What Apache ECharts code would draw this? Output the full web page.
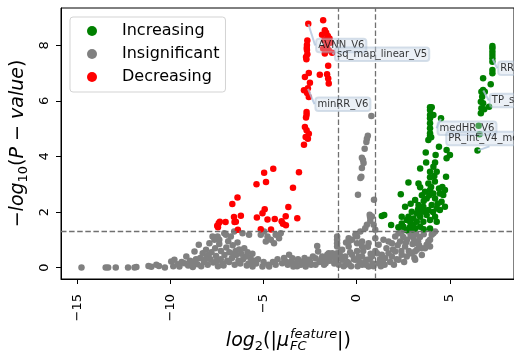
<!DOCTYPE html>
<html><head><meta charset="utf-8">
<script src="https://cdn.jsdelivr.net/npm/echarts@6/dist/echarts.min.js"></script>
<style>html,body{margin:0;padding:0;background:#fff}#c{width:514px;height:354px}</style>
</head><body><div id="c"></div>
<script>
const xTicks = [-15, -10, -5, 0, 5];
const yTicks = [0, 2, 4, 6, 8];
const legendNames = ['Increasing', 'Insignificant', 'Decreasing'];
const thresholdsX = [-1, 1];
const thresholdY = 1.301;

const increasing = [
 [7.29,7.97],[7.29,7.89],[7.29,7.77],[7.29,7.65],[7.29,7.53],[7.29,7.41],[7.29,7.11],[7.29,6.99],[7.20,6.60],[6.79,6.81],
 [6.79,6.39],[6.70,6.33],[6.88,6.33],[6.74,6.15],[6.67,5.97],[6.79,5.91],[6.70,5.73],[6.67,5.55],[6.85,5.70],[7.11,5.79],
 [3.94,5.77],[4.03,5.77],[3.94,5.67],[3.94,5.49],[4.12,5.49],[3.94,5.37],[4.53,5.37],[3.94,5.19],[3.94,5.01],[3.94,4.83],
 [3.94,4.74],[4.00,4.69],[3.85,4.59],[6.55,5.10],[6.60,4.80],[6.49,4.21],
 [4.42,4.35],[4.83,4.23],[5.01,4.05],[3.71,4.14],[4.24,4.05],[4.83,3.93],[3.73,3.78],[4.21,3.78],[3.41,3.57],[3.94,3.45],
 [4.12,3.63],[4.30,3.45],[4.17,3.30],[4.80,3.27],[3.94,3.25],[2.78,3.06],[3.32,3.03],[3.85,3.03],[3.41,2.89],[4.42,2.85],
 [4.74,2.79],[3.67,2.73],[3.94,2.79],[4.12,2.67],[4.47,2.67],[4.65,2.61],[2.37,2.64],[3.14,2.43],[3.76,2.49],[4.21,2.49],
 [4.56,2.37],[4.74,2.19],[2.60,2.19],[3.32,2.25],[3.58,2.19],[4.03,2.25],[4.30,2.13],[4.47,2.07],[2.96,2.01],[3.23,1.95],
 [3.49,2.01],[3.85,2.07],[1.35,1.86],[1.48,1.89],[2.42,1.83],[2.78,1.83],[3.05,1.77],[3.41,1.83],[3.76,1.89],[4.21,1.83],
 [4.30,1.65],[2.87,1.65],[3.23,1.65],[3.58,1.65],[3.94,1.71],[1.85,1.53],[2.24,1.45],[2.51,1.47],[2.87,1.47],[3.41,1.47],
 [3.94,1.41],[3.05,1.53],[2.42,1.59],[2.69,1.71],[3.14,1.41],[3.60,2.40],[3.90,2.60],[4.00,2.90],[3.50,2.60],[4.35,2.30],
 [3.70,2.00],[4.10,2.00],[3.30,2.10],[2.90,2.30],[4.60,2.90],[4.20,3.10],[3.00,1.38],[2.70,1.35],[3.60,1.38]
];

const insignificant = [
 [-14.78,0.0],[-13.48,0.0],[-13.35,0.0],[-12.94,0.0],[-12.28,0.0],[-11.93,0.0],[-11.83,0.02],[-11.18,0.06],[-11.03,0.03],[-10.76,0.1],
 [-10.62,0.06],[-10.30,0.0],[-9.96,0.22],[-9.79,0.28],[-9.85,0.05],[-9.60,0.12],[-9.52,0.04],[-9.40,0.20],[-9.25,0.16],[-9.15,0.40],
 [-9.05,0.08],[-8.95,0.25],[-8.90,0.22],[-8.80,0.02],[-8.71,0.58],[-8.63,0.30],[-8.55,0.12],[-8.48,0.82],[-8.40,0.35],[-8.35,0.05],
 [-8.27,0.52],[-8.20,0.20],[-8.09,0.64],[-8.05,0.40],[-8.00,0.10],[-7.91,0.88],[-7.85,0.30],[-7.80,0.55],[-7.74,1.12],[-7.70,0.18],
 [-7.64,1.00],[-7.60,0.70],[-7.55,0.42],[-7.47,1.12],[-7.45,0.05],[-7.38,1.00],[-7.38,0.85],[-7.30,0.30],[-7.29,0.60],[-7.20,0.15],
 [-7.11,1.24],[-7.10,0.45],[-7.02,1.18],[-7.00,0.72],[-6.95,0.25],[-6.90,0.95],[-6.84,0.55],[-6.76,1.12],[-6.70,0.35],[-6.66,0.80],
 [-6.58,1.30],[-6.55,0.10],[-6.50,0.60],[-6.48,0.45],[-6.40,0.90],[-6.35,0.25],[-6.31,0.65],[-6.20,0.50],[-6.13,1.24],[-6.10,0.30],
 [-6.04,0.70],[-5.95,0.40],[-5.86,0.55],[-5.80,0.15],[-5.78,1.18],[-5.70,0.35],[-5.60,0.50],[-5.59,0.04],[-5.50,0.25],[-5.40,0.15],
 [-5.30,0.30],[-5.15,1.18],[-5.06,0.04],[-5.00,0.20],[-4.97,1.30],[-4.88,0.94],[-4.79,1.12],[-4.75,0.10],[-4.70,0.04],[-4.61,1.00],
 [-4.50,0.20],[-4.44,0.88],[-4.35,1.18],[-4.35,0.10],[-4.25,0.30],[-4.17,1.06],[-4.08,1.24],[-4.00,0.16],[-3.90,0.35],[-3.81,0.22],
 [-3.70,0.10],[-3.63,0.46],[-3.55,0.20],[-3.45,0.34],[-3.40,0.04],[-3.27,0.16],[-3.15,0.30],[-3.00,0.10],[-2.92,0.22],[-2.80,0.35],
 [-2.74,0.04],[-2.65,0.15],[-2.56,0.28],[-2.45,0.10],[-2.35,0.40],[-2.21,0.34],[-2.21,0.10],[-2.12,0.78],[-2.07,0.58],[-2.00,0.20],
 [-1.90,0.30],[-1.85,0.40],[-1.75,0.10],[-1.67,0.16],[-1.58,0.46],[-1.50,0.52],[-1.45,0.25],[-1.32,0.40],[-1.31,0.52],[-1.20,0.15],
 [-1.14,0.28],[-1.05,1.12],[-1.05,1.00],[-1.05,0.88],[-1.05,0.76],[-1.05,0.52],[-1.05,0.34],[-0.96,0.10],[-0.90,0.45],[-0.78,0.64],
 [-0.78,0.28],[-0.70,0.05],[-0.61,0.40],[-0.57,0.90],[-0.50,0.20],[-0.43,0.93],[-0.43,1.06],[-0.43,0.76],[-0.43,0.16],[-0.35,0.55],
 [-0.25,1.00],[-0.25,0.46],[-0.15,0.30],[-0.07,1.18],[-0.07,0.28],[0.02,1.12],[0.02,0.88],[0.02,0.60],[0.05,0.05],[0.10,0.40],
 [0.20,1.30],[0.29,0.94],[0.29,0.76],[0.29,0.40],[0.29,0.10],[0.35,0.60],[0.46,1.42],[0.45,0.20],[0.55,1.54],[0.55,0.28],
 [0.60,0.75],[0.64,0.88],[0.64,0.04],[0.70,1.90],[0.72,1.82],[0.73,1.69],[0.75,0.50],[0.82,1.84],[0.82,0.40],[0.85,0.15],
 [0.91,1.54],[0.93,2.44],[1.00,1.36],[1.00,1.06],[1.00,0.60],[0.07,2.62],[0.20,3.22],[0.25,3.27],[0.28,3.58],[0.37,3.76],
 [0.34,3.87],[0.28,3.95],[0.43,4.28],[0.52,4.52],[0.55,4.64],[0.60,4.74],[0.79,5.45],[-0.30,0.05],[0.50,0.10],[0.90,0.05],
 [1.30,0.05],[1.09,0.52],[1.18,0.82],[1.18,0.16],[1.25,0.30],[1.35,0.46],[1.44,1.00],[1.50,0.10],[1.53,0.34],[1.60,0.70],
 [1.71,0.94],[1.71,0.52],[1.80,0.20],[1.89,0.88],[1.89,0.40],[1.95,0.65],[2.07,1.12],[2.07,0.58],[2.15,0.30],[2.20,0.80],
 [2.25,1.24],[2.25,0.28],[2.33,0.94],[2.40,0.60],[2.42,1.30],[2.42,0.46],[2.50,1.10],[2.55,0.20],[2.60,1.36],[2.60,0.76],
 [2.69,0.40],[2.70,1.00],[2.78,1.30],[2.80,0.60],[2.87,0.52],[2.90,1.15],[2.96,1.24],[2.96,0.52],[3.00,0.85],[3.05,1.06],
 [3.10,0.35],[3.14,0.88],[3.14,0.28],[3.13,0.58],[3.20,1.20],[3.23,0.64],[3.30,0.95],[3.40,1.10],[3.49,0.70],[3.50,0.45],
 [3.60,1.20],[3.67,0.70],[3.76,0.82],[3.85,0.94],[3.94,1.00],[3.94,0.76],[4.03,1.18],[4.21,1.30],[4.12,1.24],
 [-8.75,0.15],[-8.15,0.28],[-7.95,0.45],[-7.5,0.25],[-7.15,0.08],[-6.85,0.2],[-6.6,0.5],[-6.25,0.15],[-5.9,0.08],[-5.65,0.2],
 [-3.2,0.05],[-2.5,0.2],[-1.6,0.3],[-0.6,0.1],[0.15,0.2],[0.7,0.3],[1.4,0.2],[2.0,0.1],[2.65,0.9],[3.35,0.8]
];

const decreasing = [
 [-1.80,8.90],[-2.60,8.77],[-1.71,8.54],[-1.64,8.45],[-1.86,8.38],[-1.55,8.33],[-1.46,8.24],[-1.73,8.18],[-2.65,8.17],[-1.41,8.09],
 [-2.67,8.01],[-1.59,8.00],[-2.68,7.90],[-1.80,7.88],[-2.67,7.83],[-1.50,7.82],[-1.32,7.73],[-1.71,7.70],[-2.65,7.68],[-2.72,7.58],
 [-2.70,7.50],[-1.53,7.26],[-2.57,7.00],[-1.98,6.94],[-1.59,6.96],[-2.78,6.86],[-1.53,6.80],[-2.51,6.65],[-1.50,6.62],[-2.62,6.45],
 [-2.83,6.38],[-2.66,6.28],[-2.57,6.14],[-2.69,5.60],[-2.69,5.50],[-2.72,5.40],[-2.78,5.06],[-2.69,4.94],[-2.57,4.82],[-2.74,4.70],
 [-2.62,4.64],[-2.83,4.42],[-4.48,3.56],[-4.97,3.41],[-3.10,3.43],[-5.38,3.00],[-4.87,3.08],[-3.42,2.87],[-6.40,2.52],[-6.68,2.29],
 [-3.67,2.18],[-4.94,2.10],[-5.06,1.96],[-6.22,1.87],[-6.59,1.82],[-5.36,1.80],[-3.81,1.85],[-4.79,1.73],[-4.40,1.75],[-3.19,1.78],
 [-4.03,1.67],[-3.96,1.58],[-3.80,1.52],[-6.56,1.64],[-7.04,1.64],[-7.41,1.60],[-7.49,1.51],[-7.45,1.45],[-7.35,1.65],[-6.38,1.36],
 [-5.15,1.38],[-4.60,1.37],[-6.49,1.65]
];

const annotNames = ['AVNN_V6', 'sq_map_linear_V5', 'minRR_V6', 'medHR_V6', 'PR_int_V4_mean', 'RRmean_V6', 'TP_sum_V6'];
const annotPoints = [[-2.60,8.77],[-1.32,7.73],[-2.62,6.45],[4.53,5.37],[6.49,4.21],[7.29,7.53],[6.79,6.39]];
const annotOffsets = [[33,21.6],[50,1.5],[35,15.8],[26,9.9],[12,-12],[38,9.9],[37,10.5]];

const FONT = 'DejaVu Sans';
const chart = echarts.init(document.getElementById('c'), null, {renderer: 'canvas'});
const fmt = v => (v < 0 ? '\u2212' + Math.abs(v) : String(v));

const dotSize = 6.5;
function scatter(name, data, color, z) {
  return {name, type: 'scatter', data, symbol: 'circle', symbolSize: dotSize, z,
    itemStyle: {color, opacity: 1}, emphasis: {disabled: true}, silent: true, animation: false};
}

const gray = scatter('Insignificant', insignificant, '#808080', 2);
gray.markLine = {
  silent: true, symbol: ['none', 'none'], label: {show: false}, animation: false,
  lineStyle: {color: '#707070', type: [5.5, 2.6], width: 1.3},
  data: [{xAxis: thresholdsX[0]}, {xAxis: thresholdsX[1]}, {yAxis: thresholdY}]
};

const annot = {
  type: 'scatter', name: 'annot', z: 10, silent: true, animation: false,
  data: annotPoints.map((p, i) => ({name: annotNames[i], value: p})),
  symbolSize: 1, itemStyle: {color: 'rgba(0,0,0,0)'},
  label: {
    show: true, position: 'inside', formatter: p => p.name,
    fontFamily: FONT, fontSize: 10, color: '#000',
    backgroundColor: 'rgba(200,214,229,0.45)', borderColor: 'rgba(160,182,205,0.55)',
    borderWidth: 1, borderRadius: 3, padding: [1, 2, 1, 2], lineHeight: 11.5
  },
  labelLayout: params => ({dx: annotOffsets[params.dataIndex][0], dy: annotOffsets[params.dataIndex][1]}),
  labelLine: {show: true, lineStyle: {color: 'rgba(176,196,222,0.8)', width: 2}}
};

const option = {
  backgroundColor: '#fff',
  animation: false,
  grid: {left: 61, right: -2, top: 8, bottom: 75, show: true, borderColor: '#000', borderWidth: 1, backgroundColor: 'transparent'},
  xAxis: {
    type: 'value', min: -15.88, max: 8.45,
    axisLine: {show: true, onZero: false, lineStyle: {color: '#000', width: 1}},
    axisTick: {show: true, length: 5, customValues: xTicks, lineStyle: {color: '#000', width: 1}},
    axisLabel: {customValues: xTicks, rotate: 90, margin: 15, fontSize: 13, fontFamily: FONT, color: '#000', formatter: fmt},
    splitLine: {show: false}
  },
  yAxis: {
    type: 'value', min: -0.41, max: 9.34,
    axisLine: {show: true, onZero: false, lineStyle: {color: '#000', width: 1}},
    axisTick: {show: true, length: 5, customValues: yTicks, lineStyle: {color: '#000', width: 1}},
    axisLabel: {customValues: yTicks, rotate: 90, margin: 10, fontSize: 13, fontFamily: FONT, color: '#000', formatter: fmt},
    splitLine: {show: false}
  },
  legend: {
    data: legendNames, orient: 'vertical', left: 70, top: 17,
    icon: 'circle', itemWidth: 10, itemHeight: 10, itemGap: 7,
    padding: [6, 6, 7, 17], borderColor: '#d3d3d3', borderWidth: 1, borderRadius: 3,
    backgroundColor: 'rgba(255,255,255,0.8)',
    textStyle: {fontFamily: FONT, fontSize: 16, color: '#000', padding: [0, 0, 0, 20]}
  },
  graphic: [
    {type: 'text', x: 18.5, y: 143.5, rotation: Math.PI / 2, silent: true,
     style: {text: '{m|\u2212}{i|log}{s|10}{m|(}{i|P}{m| \u2212 }{i|value}{m|)}', align: 'center', verticalAlign: 'middle',
       rich: {
         m: {fontFamily: FONT, fontSize: 19, lineHeight: 24, fill: '#000'},
         i: {fontFamily: FONT, fontStyle: 'italic', fontSize: 19, lineHeight: 24, fill: '#000'},
         s: {fontFamily: FONT, fontSize: 13, lineHeight: 12, verticalAlign: 'bottom', fill: '#000'}
       }}},
    {type: 'text', x: 289, y: 341, silent: true,
     style: {text: '{i|log}{s|2}{m|(|}{i|\u03bc}', align: 'right', verticalAlign: 'middle',
       rich: {
         m: {fontFamily: FONT, fontSize: 19, lineHeight: 24, fill: '#000'},
         i: {fontFamily: FONT, fontStyle: 'italic', fontSize: 19, lineHeight: 24, fill: '#000'},
         s: {fontFamily: FONT, fontSize: 13, lineHeight: 12, verticalAlign: 'bottom', fill: '#000'}
       }}},
    {type: 'text', x: 290, y: 335, silent: true,
     style: {text: 'feature', font: 'italic 13px "DejaVu Sans"', fill: '#000', align: 'left', verticalAlign: 'middle'}},
    {type: 'text', x: 290, y: 347, silent: true,
     style: {text: 'FC', font: 'italic 13px "DejaVu Sans"', fill: '#000', align: 'left', verticalAlign: 'middle'}},
    {type: 'text', x: 337, y: 341, silent: true,
     style: {text: '|)', font: '19px "DejaVu Sans"', fill: '#000', align: 'left', verticalAlign: 'middle'}}
  ],
  series: [gray, scatter('Increasing', increasing, '#008000', 3), scatter('Decreasing', decreasing, '#ff0000', 4), annot]
};
chart.setOption(option);
</script></body></html>
